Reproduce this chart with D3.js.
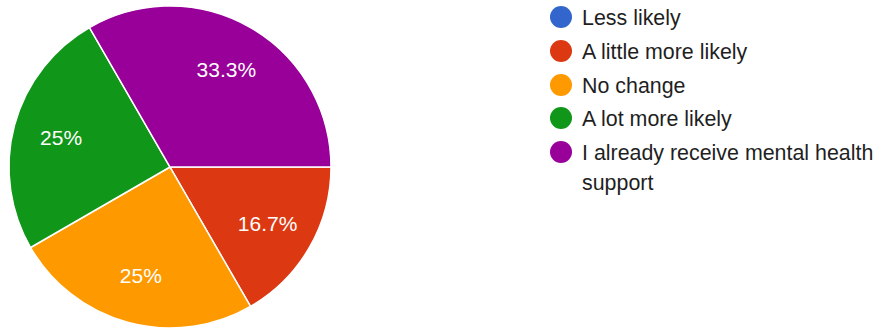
<!DOCTYPE html>
<html>
<head>
<meta charset="utf-8">
<script src="https://cdn.jsdelivr.net/npm/d3@7"></script>
<style>
  html, body { margin: 0; padding: 0; background: #fff; }
  svg { display: block; font-family: "Liberation Sans", Arial, sans-serif; }
</style>
</head>
<body>
<svg id="chart" width="878" height="328"></svg>
<script>
// Survey answers and response counts
const categories = [
  "Less likely",
  "A little more likely",
  "No change",
  "A lot more likely",
  "I already receive mental health support"
];
const counts = [0, 2, 3, 3, 4];
const colors = ["#3366cc", "#dc3912", "#ff9900", "#109618", "#990099"];
// Legend lines (long label wraps onto a second line)
const legendLines = [
  ["Less likely"],
  ["A little more likely"],
  ["No change"],
  ["A lot more likely"],
  ["I already receive mental health", "support"]
];

const svg = d3.select("#chart");
const cx = 170, cy = 167, radius = 161;

const data = categories.map((c, i) => ({ label: c, value: counts[i], color: colors[i] }));
const total = d3.sum(counts);

const pie = d3.pie()
  .value(d => d.value)
  .sort(null)
  .startAngle(Math.PI / 2)
  .endAngle(Math.PI / 2 + 2 * Math.PI);

const arc = d3.arc().innerRadius(0).outerRadius(radius);
const labelArc = d3.arc().innerRadius(radius * 0.7).outerRadius(radius * 0.7);

const g = svg.append("g").attr("transform", `translate(${cx},${cy})`);
const arcs = pie(data).filter(d => d.data.value > 0);

g.selectAll("path.slice")
  .data(arcs)
  .join("path")
  .attr("class", "slice")
  .attr("d", arc)
  .attr("fill", d => d.data.color)
  .attr("stroke", "#fff")
  .attr("stroke-width", 1.5)
  .attr("stroke-linejoin", "round");

const fmt = v => {
  const p = v / total * 100;
  return (Math.round(p * 10) / 10).toString() + "%";
};

g.selectAll("text.pct")
  .data(arcs)
  .join("text")
  .attr("class", "pct")
  .attr("transform", d => `translate(${labelArc.centroid(d)})`)
  .attr("text-anchor", "middle")
  .attr("dy", "0.35em")
  .attr("fill", "#fff")
  .attr("font-size", 21)
  .text(d => fmt(d.data.value));

// Legend
const legend = svg.append("g").attr("transform", "translate(561,17)");
const rowY = [0, 34, 68, 101, 135];
const item = legend.selectAll("g.item")
  .data(data)
  .join("g")
  .attr("class", "item")
  .attr("transform", (d, i) => `translate(0,${rowY[i]})`);

item.append("circle")
  .attr("r", 11)
  .attr("fill", d => d.color);

item.append("text")
  .attr("x", 21)
  .attr("fill", "#1f1f1f")
  .attr("font-size", 21.4)
  .selectAll("tspan")
  .data((d, i) => legendLines[i])
  .join("tspan")
  .attr("x", 21)
  .attr("y", (t, j) => j * 31)
  .attr("dy", "0.35em")
  .text(t => t);
</script>
</body>
</html>
